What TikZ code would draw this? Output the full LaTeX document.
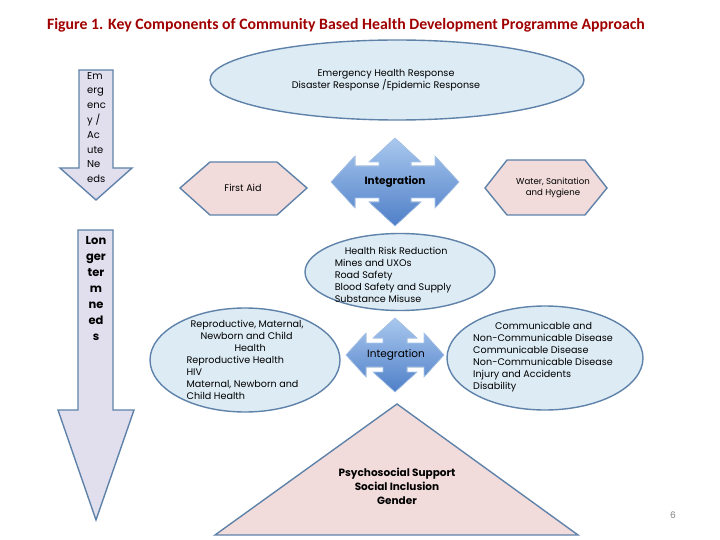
\documentclass[tikz,border=0pt]{standalone}
\usepackage{fontspec}
\setmainfont{Poppins}
\newfontfamily\titlefont{Carlito}
\usetikzlibrary{shapes.geometric}
\definecolor{edge}{HTML}{5F82AA}
\definecolor{lblue}{HTML}{DCEBF4}
\definecolor{pinkf}{HTML}{F2DCDB}
\definecolor{lav}{HTML}{E1DFEE}
\definecolor{arrb}{HTML}{4F7FC8}
\definecolor{arrl}{HTML}{A9C8EE}
\definecolor{titlered}{HTML}{A00000}
\tikzset{
  oval/.style={draw=edge,line width=1.4pt,fill=lblue,ellipse,inner sep=0pt},
  pink/.style={draw=edge,line width=1.4pt,fill=pinkf},
  bigarrow/.style={draw=edge,line width=1.4pt,fill=lav},
  cross/.style={draw=arrl,line width=0.6pt,top color=arrl,bottom color=arrb},
  txt/.style={font=\fontsize{9.6}{12}\selectfont,align=left,inner sep=0pt},
}
\begin{document}
\begin{tikzpicture}[x=1pt,y=-1pt]
\useasboundingbox (0,0) rectangle (720,540);
\node[font=\titlefont\bfseries\fontsize{15.8}{18}\selectfont,text=titlered] (title) at (346,25) {Figure 1. Key Components of Community Based Health Development Programme Approach};
% left arrows
\draw[bigarrow] (79,70) -- (113,70) -- (113,168) -- (132,168) -- (96,200) -- (60,168) -- (79,168) -- cycle;
\node[txt,anchor=north west,font=\fontsize{10}{14.8}\selectfont] (emerg) at (87,72) {Em\\erg\\enc\\y /\\Ac\\ute\\Ne\\eds};
\draw[bigarrow] (78,230) -- (113,230) -- (113,410) -- (134,410) -- (96,520) -- (58,410) -- (78,410) -- cycle;
\node[txt,align=center,anchor=north,font=\bfseries\fontsize{11.5}{16}\selectfont] (longer) at (96,236) {Lon\\ger\\ter\\m\\ne\\ed\\s};
% top ellipse
\node[oval,minimum width=374,minimum height=80] (top) at (397,80) {};
\node[txt,align=center] (toptxt) at (386,80) {Emergency Health Response\\Disaster Response /Epidemic Response};
% hexagons
\draw[pink] (180,188) -- (210,162) -- (277,162) -- (307,188) -- (277,215) -- (210,215) -- cycle;
\node[txt] (fa) at (243,188) {First Aid};
\draw[pink] (485,188) -- (507,160) -- (585,160) -- (607,188) -- (585,215) -- (507,215) -- cycle;
\node[txt,align=center,font=\fontsize{8.6}{11}\selectfont] (wash) at (553,188) {Water, Sanitation\\and Hygiene};
% crosses
\newcommand{\crossarrow}[7]{% cx cy W H s h L
 \fill[cross] (#1-#5,#2-#4+#7) -- (#1-#6,#2-#4+#7) -- (#1,#2-#4) -- (#1+#6,#2-#4+#7) -- (#1+#5,#2-#4+#7)
 -- (#1+#5,#2-#5) -- (#1+#3-#7,#2-#5) -- (#1+#3-#7,#2-#6) -- (#1+#3,#2) -- (#1+#3-#7,#2+#6) -- (#1+#3-#7,#2+#5)
 -- (#1+#5,#2+#5) -- (#1+#5,#2+#4-#7) -- (#1+#6,#2+#4-#7) -- (#1,#2+#4) -- (#1-#6,#2+#4-#7) -- (#1-#5,#2+#4-#7)
 -- (#1-#5,#2+#5) -- (#1-#3+#7,#2+#5) -- (#1-#3+#7,#2+#6) -- (#1-#3,#2) -- (#1-#3+#7,#2-#6) -- (#1-#3+#7,#2-#5)
 -- (#1-#5,#2-#5) -- cycle;}
\crossarrow{395}{182}{64}{44}{16}{26}{24}
\node[txt,font=\bfseries\fontsize{10.5}{12}\selectfont] (int1) at (395,182) {Integration};
% middle ellipses
\node[oval,minimum width=190,minimum height=77] (hrr) at (400,272) {};
\node[txt] (hrrtxt) at (393,275) {\hspace*{10pt}Health Risk Reduction\\Mines and UXOs\\Road Safety\\Blood Safety and Supply\\Substance Misuse};
\node[oval,minimum width=190,minimum height=104] (rep) at (245,360) {};
\node[txt] (reptxt) at (245,360) {\hspace*{4pt}Reproductive, Maternal,\\\hspace*{14pt}Newborn and Child\\\hspace*{48pt}Health\\Reproductive Health\\HIV\\Maternal, Newborn and\\Child Health};
\node[oval,minimum width=196,minimum height=104] (com) at (545,358) {};
\node[txt] (comtxt) at (543,357) {\hspace*{22pt}Communicable and\\Non-Communicable Disease\\Communicable Disease\\Non-Communicable Disease\\Injury and Accidents\\Disability};
\crossarrow{395}{355}{49}{37}{12}{22}{20}
\node[txt,font=\fontsize{10.5}{12}\selectfont] (int2) at (396,355) {Integration};
% triangle
\draw[pink] (397,404) -- (578,535) -- (215,535) -- cycle;
\node[txt,align=center,font=\bfseries\fontsize{10.5}{14}\selectfont] (tri) at (397,486) {Psychosocial Support\\Social Inclusion\\Gender};
\node[font=\fontsize{9}{10}\selectfont,text=gray] (pg) at (673,515) {6};
\end{tikzpicture}
\end{document}
